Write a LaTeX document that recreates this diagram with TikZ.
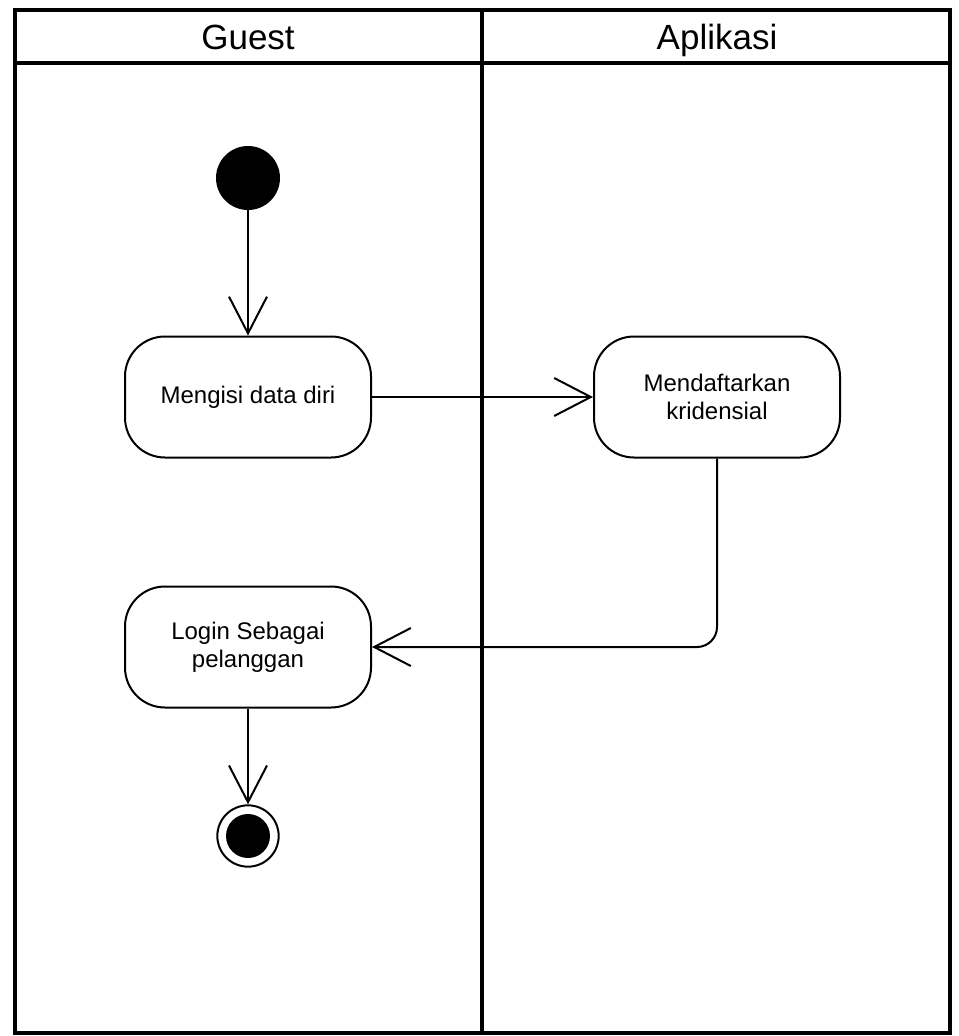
\documentclass[tikz,border=0pt]{standalone}
\usepackage{fontspec}
\setmainfont{Liberation Sans}
\usetikzlibrary{
  arrows.meta,positioning
}

\begin{document}
\begin{tikzpicture}[x=0.75pt,y=-0.75pt,
  lane/.style={line width=3pt},
  header/.style={anchor=base,font=\fontsize{26.25}{30}\selectfont},
  activity/.style={draw,line width=1.5pt,rounded corners=30pt,
    minimum width=184.5pt,minimum height=90.75pt,align=center,
    font=\fontsize{18}{21}\selectfont},
  initial/.style={circle,fill=black,minimum size=48pt,inner sep=0pt},
  final/.style={circle,draw,line width=1.5pt,minimum size=46pt,inner sep=0pt},
  flow/.style={line width=1.5pt,
    -{Straight Barb[length=27.5pt,width=28.5pt]}}
]
\useasboundingbox (0,0) rectangle (958,1036);

% swimlanes
\draw[lane] (15,10) rectangle (950,1033);
\draw[lane] (15,63) -- (950,63);
\draw[lane] (482,10) -- (482,1033);
\node[header] (guest) at (248,49) {Guest};
\node[header] (aplikasi) at (717,49) {Aplikasi};

% activities
\node[initial] (start) at (248,178) {};
\node[activity] (isi) at (248,397) {Mengisi data diri};
\node[activity] (daftar) at (717,397) {Mendaftarkan\\kridensial};
\node[activity] (login) at (248,647) {Login Sebagai\\pelanggan};
\node[final] (stop) at (248,836) {};
\fill[black] (stop.center) circle (16.5pt);

% flows
\draw[flow] (start) -- (isi);
\draw[flow] (isi) -- (daftar);
\draw[flow,rounded corners=15pt] (daftar.south) |- (login.east);
\draw[flow] (login) -- (stop);
\end{tikzpicture}
\end{document}
